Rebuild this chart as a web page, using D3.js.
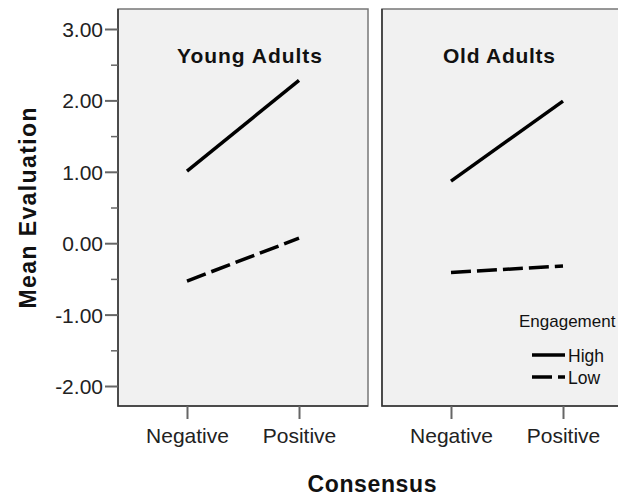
<!DOCTYPE html>
<html><head><meta charset="utf-8">
<script src="https://cdn.jsdelivr.net/npm/d3@7"></script>
<style>body{margin:0;background:#fff}svg{display:block}text{font-family:"Liberation Sans",Arial,sans-serif}</style>
</head><body><svg id="c" width="618" height="498"></svg>
<script>
const panels = ["Young Adults", "Old Adults"];
const categories = ["Negative", "Positive"];
const seriesNames = ["High", "Low"];
const youngHigh = [1.01, 2.28];
const youngLow = [-0.53, 0.07];
const oldHigh = [0.87, 1.99];
const oldLow = [-0.41, -0.32];
const yTickValues = [-2, -1, 0, 1, 2, 3];
const yMinorTickValues = [-1.5, -0.5, 0.5, 1.5, 2.5];
const yTitle = "Mean Evaluation";
const xTitle = "Consensus";
const legendTitle = "Engagement";

const panelData = [
  {panel: panels[0], series: [{name: seriesNames[0], values: youngHigh}, {name: seriesNames[1], values: youngLow}]},
  {panel: panels[1], series: [{name: seriesNames[0], values: oldHigh}, {name: seriesNames[1], values: oldLow}]}
];

const svg = d3.select("#c");
const plotTop = 9, plotBottom = 406;
const y = d3.scaleLinear().domain([-2.28, 3.28]).range([plotBottom, plotTop]);
const fx = d3.scaleBand().domain(panels).range([118, 632]).paddingInner(0.053).paddingOuter(0);
const x = d3.scalePoint().domain(categories).range([0, fx.bandwidth()]).padding(0.616);
const dash = {High: null, Low: "20,6"};

const pg = svg.selectAll("g.panel").data(panelData).join("g")
  .attr("class", "panel")
  .attr("transform", d => `translate(${fx(d.panel)},0)`);

pg.append("rect")
  .attr("x", 0).attr("y", plotTop)
  .attr("width", fx.bandwidth()).attr("height", plotBottom - plotTop)
  .attr("fill", "#f1f1f1").attr("stroke", "#777").attr("stroke-width", 1.5);
pg.append("path")
  .attr("d", `M0,${plotTop}V${plotBottom}H${fx.bandwidth()}`)
  .attr("fill", "none").attr("stroke", "#333").attr("stroke-width", 1.5);

pg.append("text")
  .attr("x", (d, i) => fx.bandwidth() / 2 + (i === 0 ? 6.5 : -8))
  .attr("y", 63)
  .attr("text-anchor", "middle")
  .attr("font-size", 21).attr("font-weight", "bold").attr("fill", "#111")
  .attr("textLength", (d, i) => i === 0 ? 145 : 112).attr("lengthAdjust", "spacing")
  .text(d => d.panel);

pg.each(function() {
  const g = d3.select(this).append("g").attr("transform", `translate(0,${plotBottom})`)
    .call(d3.axisBottom(x).tickSize(13));
  g.select(".domain").remove();
  g.selectAll(".tick line").attr("stroke", "#666").attr("stroke-width", 2);
  g.selectAll(".tick text").attr("y", 37).attr("dy", 0)
    .attr("font-size", 21).attr("fill", "#222")
    .attr("font-family", '"Liberation Sans",Arial,sans-serif');
});

const line = d3.line().x((d, i) => x(categories[i])).y(d => y(d));
pg.selectAll("path.series").data(d => d.series).join("path")
  .attr("class", "series")
  .attr("d", d => line(d.values))
  .attr("fill", "none").attr("stroke", "#000").attr("stroke-width", 3.5)
  .attr("stroke-dasharray", d => dash[d.name]);

const ya = svg.append("g").attr("transform", `translate(118,0)`)
  .call(d3.axisLeft(y).tickValues(yTickValues).tickFormat(d => d.toFixed(2)).tickSize(13).tickPadding(2));
ya.select(".domain").remove();
ya.selectAll(".tick line").attr("stroke", "#666").attr("stroke-width", 2);
ya.selectAll(".tick text").attr("font-size", 21).attr("fill", "#222").attr("dy", "0.36em")
  .attr("font-family", '"Liberation Sans",Arial,sans-serif');
const ym = svg.append("g").attr("transform", `translate(118,0)`)
  .call(d3.axisLeft(y).tickValues(yMinorTickValues).tickFormat("").tickSize(7));
ym.select(".domain").remove();
ym.selectAll(".tick line").attr("stroke", "#666").attr("stroke-width", 1.5);

svg.append("text")
  .attr("x", 372).attr("y", 492).attr("text-anchor", "middle")
  .attr("font-size", 23).attr("font-weight", "bold").attr("fill", "#111")
  .attr("textLength", 129).attr("lengthAdjust", "spacing")
  .text(xTitle);
svg.append("text")
  .attr("transform", "translate(36,208) rotate(-90)")
  .attr("text-anchor", "middle")
  .attr("font-size", 23).attr("font-weight", "bold").attr("fill", "#111")
  .attr("textLength", 201).attr("lengthAdjust", "spacing")
  .text(yTitle);

const lg = svg.append("g");
lg.append("text").attr("x", 519).attr("y", 327).attr("font-size", 17).attr("fill", "#111").text(legendTitle);
const legendRows = seriesNames.map((n, i) => ({name: n, row: i}));
const ly = d3.scalePoint().domain(seriesNames).range([355, 377]);
lg.selectAll("line.lgl").data(legendRows).join("line")
  .attr("class", "lgl")
  .attr("x1", 532).attr("x2", 565)
  .attr("y1", d => ly(d.name)).attr("y2", d => ly(d.name))
  .attr("stroke", "#000").attr("stroke-width", 3.5)
  .attr("stroke-dasharray", d => dash[d.name]);
lg.selectAll("text.lgt").data(legendRows).join("text")
  .attr("class", "lgt")
  .attr("x", 568).attr("y", d => ly(d.name) + 7)
  .attr("font-size", 17.5).attr("fill", "#111")
  .text(d => d.name);
</script></body></html>
